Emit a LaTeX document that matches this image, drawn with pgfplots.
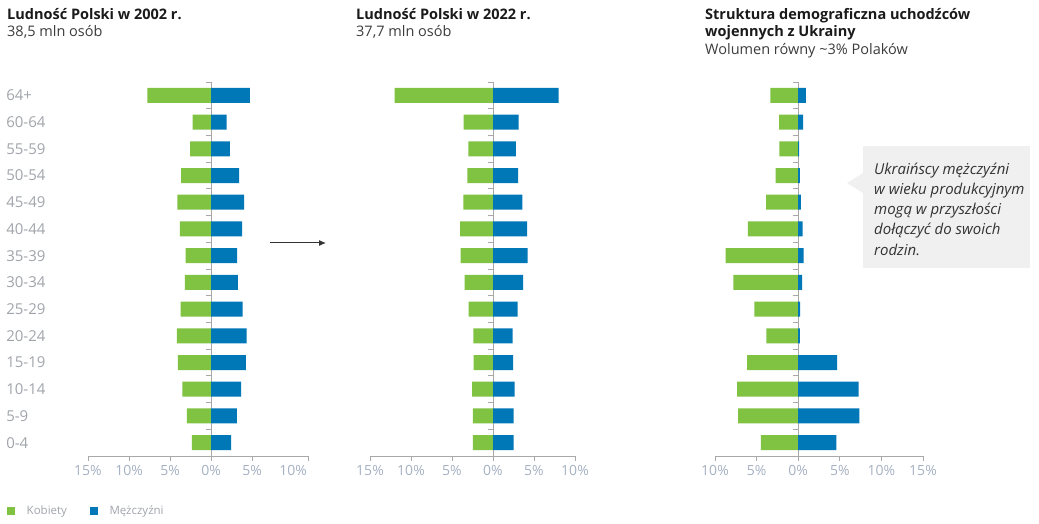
\documentclass[border=0pt]{standalone}
\usepackage{pgfplots}
\pgfplotsset{compat=1.18}
\usepackage{pgfplotstable}
\usepackage{fontspec}
\setmainfont{Open Sans}
\usetikzlibrary{arrows.meta}
\definecolor{kob}{HTML}{80C242}
\definecolor{mez}{HTML}{0078B8}
\definecolor{axgray}{HTML}{A8A8A8}
\definecolor{ticklab}{HTML}{A5B1C2}
\definecolor{catlab}{HTML}{A0A4AA}
\definecolor{boxgray}{HTML}{F0F0F0}
\definecolor{titletxt}{HTML}{1A1A1A}
\definecolor{subtxt}{HTML}{3C3C3C}
\definecolor{notetxt}{HTML}{333333}

% y: 0 = 0-4 ... 13 = 64+ ; w = Kobiety (negative), m = Mezczyzni
\pgfplotstableread{
y w m
0 -2.35 2.44
1 -2.96 3.13
2 -3.49 3.66
3 -4.06 4.23
4 -4.18 4.32
5 -3.73 3.83
6 -3.21 3.25
7 -3.12 3.17
8 -3.82 3.78
9 -4.10 4.02
10 -3.66 3.41
11 -2.56 2.28
12 -2.27 1.88
13 -7.76 4.72
}\dataA
\pgfplotstableread{
y w m
0 -2.44 2.52
1 -2.44 2.52
2 -2.56 2.64
3 -2.36 2.44
4 -2.40 2.40
5 -2.97 3.01
6 -3.46 3.66
7 -3.94 4.23
8 -4.02 4.15
9 -3.62 3.58
10 -3.13 3.05
11 -3.01 2.80
12 -3.58 3.13
13 -11.99 8.01
}\dataB
\pgfplotstableread{
y w m
0 -4.48 4.60
1 -7.22 7.34
2 -7.34 7.26
3 -6.13 4.68
4 -3.83 0.20
5 -5.28 0.24
6 -7.78 0.48
7 -8.71 0.65
8 -6.05 0.52
9 -3.87 0.32
10 -2.70 0.20
11 -2.26 0.12
12 -2.30 0.60
13 -3.35 0.93
}\dataC

\pgfplotsset{pyr/.style={
  scale only axis, height=374pt, ymin=-0.5, ymax=13.5,
  axis x line=bottom, axis y line=center,
  axis line style={-, draw=axgray, line width=0.8pt},
  xbar, bar width=15pt,
  ytick={0,...,13},
  every major y tick/.append style={draw=none},
  minor ytick={-0.5,0.5,...,13.5},
  minor tick length=5pt,
  every minor y tick/.append style={draw=axgray, line width=0.8pt},
  every major x tick/.append style={draw=axgray, line width=0.8pt},
  major tick length=5pt, tick align=outside,
  x tick label style={font=\fontsize{14}{16}\selectfont, text=ticklab, yshift=-1pt},
  clip=false,
}}

\begin{document}
\begin{tikzpicture}
\useasboundingbox (0pt,0pt) rectangle (1039pt,523pt);

% Panel 1
\begin{axis}[pyr, at={(88pt,67pt)}, anchor=south west, width=220pt,
  xmin=-15, xmax=11.8,
  xtick={-15,-10,-5,0,5,11.8},
  xticklabels={15\%,10\%,5\%,0\%,5\%,},
  extra x ticks={10}, extra x tick labels={10\%},
  extra x tick style={major tick length=0pt, x tick label style={yshift=-5pt}},
  yticklabels={0-4,5-9,10-14,15-19,20-24,25-29,30-34,35-39,40-44,45-49,50-54,55-59,60-64,64+},
  y tick label style={font=\fontsize{15}{17}\selectfont, text=catlab, anchor=west, inner sep=0pt, xshift=-200pt},
  legend style={at={(axis description cs:-0.368,-0.147)}, anchor=west, draw=none, fill=none,
    legend columns=-1, font=\fontsize{11.5}{14}\selectfont, text=catlab, inner sep=0pt,
    /tikz/every odd column/.append style={column sep=10pt},
    /tikz/every even column/.append style={column sep=21pt}},
]
\addplot[fill=kob, draw=none, bar shift=0pt,
  legend image code/.code={\fill[kob] (0pt,-3.7pt) rectangle (7.5pt,3.7pt);}]
  table[x=w, y=y] {\dataA};
\addlegendentry{Kobiety}
\addplot[fill=mez, draw=none, bar shift=0pt,
  legend image code/.code={\fill[mez] (0pt,-3.7pt) rectangle (7.5pt,3.7pt);}]
  table[x=m, y=y] {\dataA};
\addlegendentry{Mężczyźni}
\end{axis}

% Panel 2
\begin{axis}[pyr, at={(370pt,67pt)}, anchor=south west, width=205pt,
  xmin=-15, xmax=10,
  xtick={-15,-10,-5,0,5,10},
  xticklabels={15\%,10\%,5\%,0\%,5\%,10\%},
  yticklabels={},
]
\addplot[fill=kob, draw=none, bar shift=0pt] table[x=w, y=y] {\dataB};
\addplot[fill=mez, draw=none, bar shift=0pt] table[x=m, y=y] {\dataB};
\end{axis}

% Panel 3
\begin{axis}[pyr, at={(715pt,67pt)}, anchor=south west, width=208pt,
  xmin=-10, xmax=15,
  xtick={-10,-5,0,5,10,15},
  xticklabels={10\%,5\%,0\%,5\%,10\%,15\%},
  yticklabels={},
]
\addplot[fill=kob, draw=none, bar shift=0pt] table[x=w, y=y] {\dataC};
\addplot[fill=mez, draw=none, bar shift=0pt] table[x=m, y=y] {\dataC};
\end{axis}

% Titles
\node[anchor=base west, inner sep=0pt, text=titletxt, font=\fontsize{14.5}{17}\selectfont\bfseries] at (7pt,503pt) {Ludność Polski w 2002 r.};
\node[anchor=base west, inner sep=0pt, text=subtxt, font=\fontsize{14.5}{17}\selectfont] at (7pt,486pt) {38,5 mln osób};
\node[anchor=base west, inner sep=0pt, text=titletxt, font=\fontsize{14.5}{17}\selectfont\bfseries] at (356pt,503pt) {Ludność Polski w 2022 r.};
\node[anchor=base west, inner sep=0pt, text=subtxt, font=\fontsize{14.5}{17}\selectfont] at (356pt,486pt) {37,7 mln osób};
\node[anchor=base west, inner sep=0pt, text=titletxt, font=\fontsize{14.5}{17}\selectfont\bfseries] at (705pt,503.5pt) {Struktura demograficzna uchodźców};
\node[anchor=base west, inner sep=0pt, text=titletxt, font=\fontsize{14.5}{17}\selectfont\bfseries] at (705pt,486.3pt) {wojennych z Ukrainy};
\node[anchor=base west, inner sep=0pt, text=subtxt, font=\fontsize{14.5}{17}\selectfont] at (705pt,468pt) {Wolumen równy \textasciitilde 3\% Polaków};

% Arrow between panels
\draw[-{Latex[length=7pt,width=6pt]}, line width=1pt, draw=black!80] (270pt,280pt) -- (326pt,280pt);

% Note box
\fill[boxgray] (863pt,255pt) rectangle (1030pt,377pt);
\fill[boxgray] (863pt,350pt) -- (847pt,340pt) -- (863pt,330pt) -- cycle;
\begin{scope}[every node/.style={anchor=base west, inner sep=0pt, text=notetxt, font=\fontsize{15}{17}\selectfont\itshape}]
\node at (874pt,348.7pt) {Ukraińscy mężczyźni};
\node at (874pt,328.5pt) {w wieku produkcyjnym};
\node at (874pt,308.3pt) {mogą w przyszłości};
\node at (874pt,288.1pt) {dołączyć do swoich};
\node at (874pt,268pt) {rodzin.};
\end{scope}
\end{tikzpicture}
\end{document}
